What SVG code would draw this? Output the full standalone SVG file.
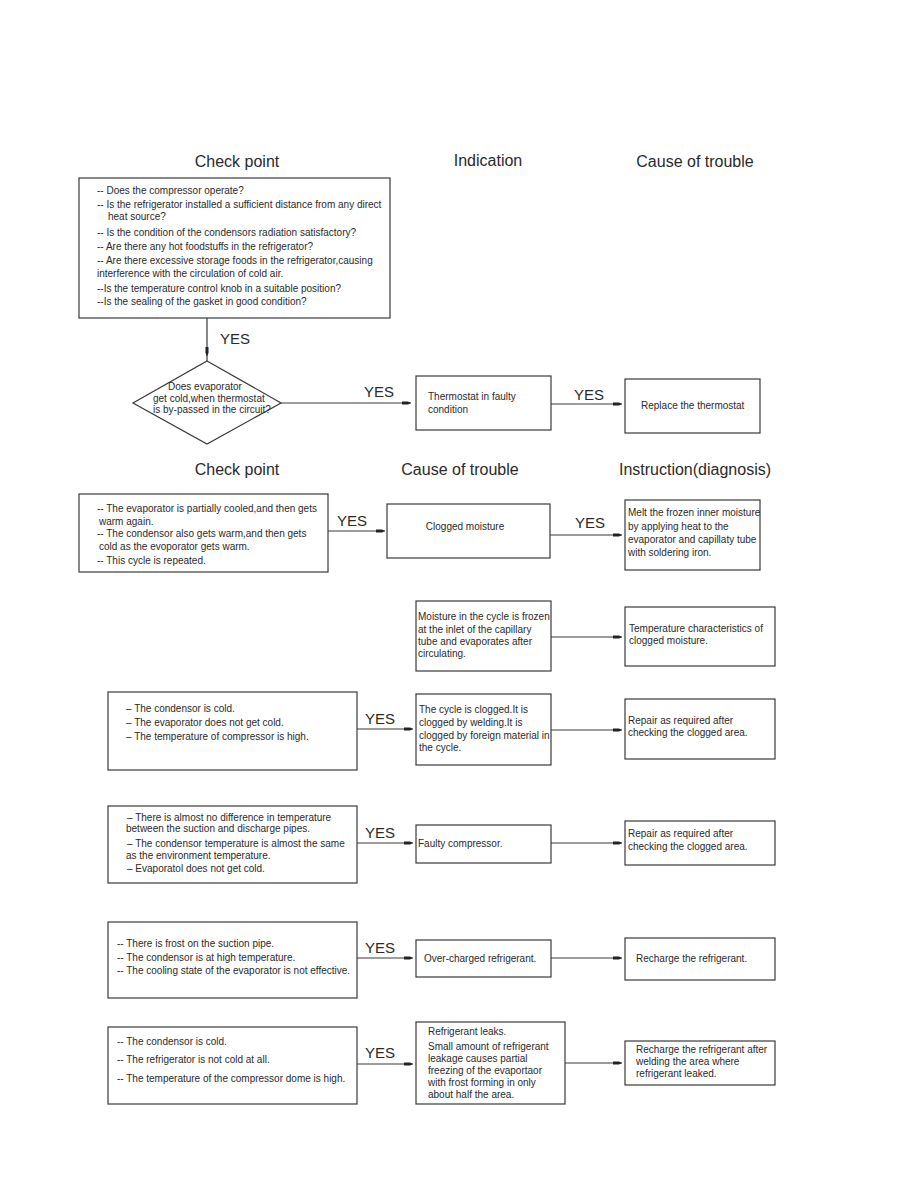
<svg xmlns="http://www.w3.org/2000/svg" width="918" height="1188" viewBox="0 0 918 1188">
<defs>
<style>
.hd{font-family:"Liberation Sans",Arial,sans-serif;font-size:16px;fill:#2a2a2a;text-anchor:middle}
.t{font-family:"Liberation Sans",Arial,sans-serif;font-size:10px;fill:#2a2a2a}
.c{text-anchor:middle}
.yes{font-family:"Liberation Sans",Arial,sans-serif;font-size:15px;fill:#2a2a2a}
.box{fill:#fff;stroke:#3a3a3a;stroke-width:1.2}
.ln{stroke:#3a3a3a;stroke-width:1.2;fill:none}
</style>
<marker id="ah" markerWidth="10" markerHeight="6" refX="9" refY="3" orient="auto" markerUnits="userSpaceOnUse">
<path d="M0,1.5 L6,1.5 L9,3 L6,4.5 L0,4.5 Z" fill="#222"/>
</marker>
</defs>
<rect width="918" height="1188" fill="#fff"/>

<g id="headers">
<text class="hd" x="237" y="167">Check point</text>
<text class="hd" x="488" y="166">Indication</text>
<text class="hd" x="695" y="167">Cause of trouble</text>
<text class="hd" x="237" y="475">Check point</text>
<text class="hd" x="460" y="475">Cause of trouble</text>
<text class="hd" x="695" y="475">Instruction(diagnosis)</text>
</g>

<g id="connectors">
<line class="ln" x1="207" y1="318" x2="207" y2="356" marker-end="url(#ah)"/>
<line class="ln" x1="207" y1="354" x2="207" y2="361"/>
<line class="ln" x1="281" y1="403" x2="411" y2="403" marker-end="url(#ah)"/>
<line class="ln" x1="551" y1="404" x2="622" y2="404" marker-end="url(#ah)"/>
<line class="ln" x1="328" y1="531" x2="385" y2="531" marker-end="url(#ah)"/>
<line class="ln" x1="550" y1="535" x2="622" y2="535" marker-end="url(#ah)"/>
<line class="ln" x1="551" y1="637" x2="622" y2="637" marker-end="url(#ah)"/>
<line class="ln" x1="357" y1="729" x2="413" y2="729" marker-end="url(#ah)"/>
<line class="ln" x1="551" y1="730" x2="622" y2="730" marker-end="url(#ah)"/>
<line class="ln" x1="357" y1="843" x2="413" y2="843" marker-end="url(#ah)"/>
<line class="ln" x1="551" y1="843" x2="622" y2="843" marker-end="url(#ah)"/>
<line class="ln" x1="357" y1="958" x2="413" y2="958" marker-end="url(#ah)"/>
<line class="ln" x1="551" y1="958" x2="622" y2="958" marker-end="url(#ah)"/>
<line class="ln" x1="357" y1="1064" x2="413" y2="1064" marker-end="url(#ah)"/>
<line class="ln" x1="565" y1="1063" x2="622" y2="1063" marker-end="url(#ah)"/>
<text class="yes" x="220" y="344">YES</text>
<text class="yes" x="364" y="397">YES</text>
<text class="yes" x="574" y="400">YES</text>
<text class="yes" x="337" y="526">YES</text>
<text class="yes" x="575" y="528">YES</text>
<text class="yes" x="365" y="724">YES</text>
<text class="yes" x="365" y="838">YES</text>
<text class="yes" x="365" y="953">YES</text>
<text class="yes" x="365" y="1058">YES</text>
</g>

<g id="checklist">
<rect class="box" x="79" y="178" width="311" height="140"/>
<text class="t" x="97" y="194">-- Does the compressor operate?</text>
<text class="t" x="97" y="208">-- Is the refrigerator installed a sufficient distance from any direct</text>
<text class="t" x="108" y="220">heat source?</text>
<text class="t" x="97" y="236">-- Is the condition of the condensors radiation satisfactory?</text>
<text class="t" x="97" y="250">-- Are there any hot foodstuffs in the refrigerator?</text>
<text class="t" x="97" y="264">-- Are there excessive storage foods in the refrigerator,causing</text>
<text class="t" x="97" y="277">interference with the circulation of cold air.</text>
<text class="t" x="97" y="292">--Is the temperature control knob in a suitable position?</text>
<text class="t" x="97" y="305">--Is the sealing of the gasket in good condition?</text>
</g>

<g id="decision">
<polygon class="box" points="207,361 281,403 207,444 133,403"/>
<text class="t" x="168" y="390">Does evaporator</text>
<text class="t" x="153" y="402">get cold,when thermostat</text>
<text class="t" x="153" y="413">is by-passed in the circuit?</text>
</g>

<g id="thermostat-faulty">
<rect class="box" x="416" y="376" width="135" height="54"/>
<text class="t" x="428" y="400">Thermostat in faulty</text>
<text class="t" x="428" y="413">condition</text>
</g>

<g id="replace-thermostat">
<rect class="box" x="625" y="379" width="135" height="54"/>
<text class="t" x="641" y="409">Replace the thermostat</text>
</g>

<g id="check-1">
<rect class="box" x="79" y="494" width="249" height="78"/>
<text class="t" x="97" y="512">-- The evaporator is partially cooled,and then gets</text>
<text class="t" x="99" y="525">warm again.</text>
<text class="t" x="97" y="537">-- The condensor also gets warm,and then gets</text>
<text class="t" x="99" y="550">cold as the evoporator gets warm.</text>
<text class="t" x="97" y="564">-- This cycle is repeated.</text>
</g>

<g id="clogged-moisture">
<rect class="box" x="387" y="504" width="163" height="54"/>
<text class="t c" x="465" y="530">Clogged moisture</text>
</g>

<g id="melt-moisture">
<rect class="box" x="625" y="500" width="135" height="70"/>
<text class="t" x="628" y="516">Melt the frozen inner moisture</text>
<text class="t" x="628" y="530">by applying heat to the</text>
<text class="t" x="628" y="543">evaporator and capillaty tube</text>
<text class="t" x="628" y="556">with soldering iron.</text>
</g>

<g id="moisture-frozen">
<rect class="box" x="416" y="601" width="135" height="70"/>
<text class="t" x="418" y="620">Moisture in the cycle is frozen</text>
<text class="t" x="418" y="633">at the inlet of the capillary</text>
<text class="t" x="418" y="645">tube and evaporates after</text>
<text class="t" x="418" y="657">circulating.</text>
</g>

<g id="temperature-characteristics">
<rect class="box" x="625" y="607" width="150" height="59"/>
<text class="t" x="629" y="632">Temperature characteristics of</text>
<text class="t" x="629" y="644">clogged moisture.</text>
</g>

<g id="check-2">
<rect class="box" x="108" y="692" width="249" height="78"/>
<text class="t" x="126" y="712">– The condensor is cold.</text>
<text class="t" x="126" y="726">– The evaporator does not get cold.</text>
<text class="t" x="126" y="740">– The temperature of compressor is high.</text>
</g>

<g id="cycle-clogged">
<rect class="box" x="416" y="694" width="135" height="71"/>
<text class="t" x="419" y="713">The cycle is clogged.It is</text>
<text class="t" x="419" y="726">clogged by welding.It is</text>
<text class="t" x="419" y="739">clogged by foreign material in</text>
<text class="t" x="419" y="751">the cycle.</text>
</g>

<g id="repair-1">
<rect class="box" x="625" y="699" width="150" height="60"/>
<text class="t" x="628" y="724">Repair as required after</text>
<text class="t" x="628" y="736">checking the clogged area.</text>
</g>

<g id="check-3">
<rect class="box" x="108" y="806" width="249" height="77"/>
<text class="t" x="127" y="821">– There is almost no difference in temperature</text>
<text class="t" x="126" y="832">between the suction and discharge pipes.</text>
<text class="t" x="127" y="847">– The condensor temperature is almost the same</text>
<text class="t" x="126" y="859">as the environment temperature.</text>
<text class="t" x="127" y="872">– Evaporatol does not get cold.</text>
</g>

<g id="faulty-compressor">
<rect class="box" x="416" y="825" width="135" height="38"/>
<text class="t" x="418" y="847">Faulty compressor.</text>
</g>

<g id="repair-2">
<rect class="box" x="625" y="821" width="150" height="44"/>
<text class="t" x="628" y="837">Repair as required after</text>
<text class="t" x="628" y="850">checking the clogged area.</text>
</g>

<g id="check-4">
<rect class="box" x="108" y="922" width="249" height="76"/>
<text class="t" x="117" y="947">-- There is frost on the suction pipe.</text>
<text class="t" x="117" y="961">-- The condensor is at high temperature.</text>
<text class="t" x="117" y="974">-- The cooling state of the evaporator is not effective.</text>
</g>

<g id="over-charged">
<rect class="box" x="416" y="940" width="135" height="37"/>
<text class="t" x="424" y="962">Over-charged refrigerant.</text>
</g>

<g id="recharge-1">
<rect class="box" x="625" y="938" width="150" height="42"/>
<text class="t" x="636" y="962">Recharge the refrigerant.</text>
</g>

<g id="check-5">
<rect class="box" x="108" y="1027" width="249" height="77"/>
<text class="t" x="117" y="1045">-- The condensor is cold.</text>
<text class="t" x="117" y="1063">-- The refrigerator is not cold at all.</text>
<text class="t" x="117" y="1082">-- The temperature of the compressor dome is high.</text>
</g>

<g id="refrigerant-leaks">
<rect class="box" x="416" y="1022" width="149" height="82"/>
<text class="t" x="428" y="1035">Refrigerant leaks.</text>
<text class="t" x="428" y="1050">Small amount of refrigerant</text>
<text class="t" x="428" y="1062">leakage causes partial</text>
<text class="t" x="428" y="1074">freezing of the evaportaor</text>
<text class="t" x="428" y="1086">with frost forming in only</text>
<text class="t" x="428" y="1098">about half the area.</text>
</g>

<g id="recharge-2">
<rect class="box" x="625" y="1041" width="150" height="44"/>
<text class="t" x="636" y="1053">Recharge the refrigerant after</text>
<text class="t" x="636" y="1065">welding the area where</text>
<text class="t" x="636" y="1077">refrigerant leaked.</text>
</g>
</svg>
